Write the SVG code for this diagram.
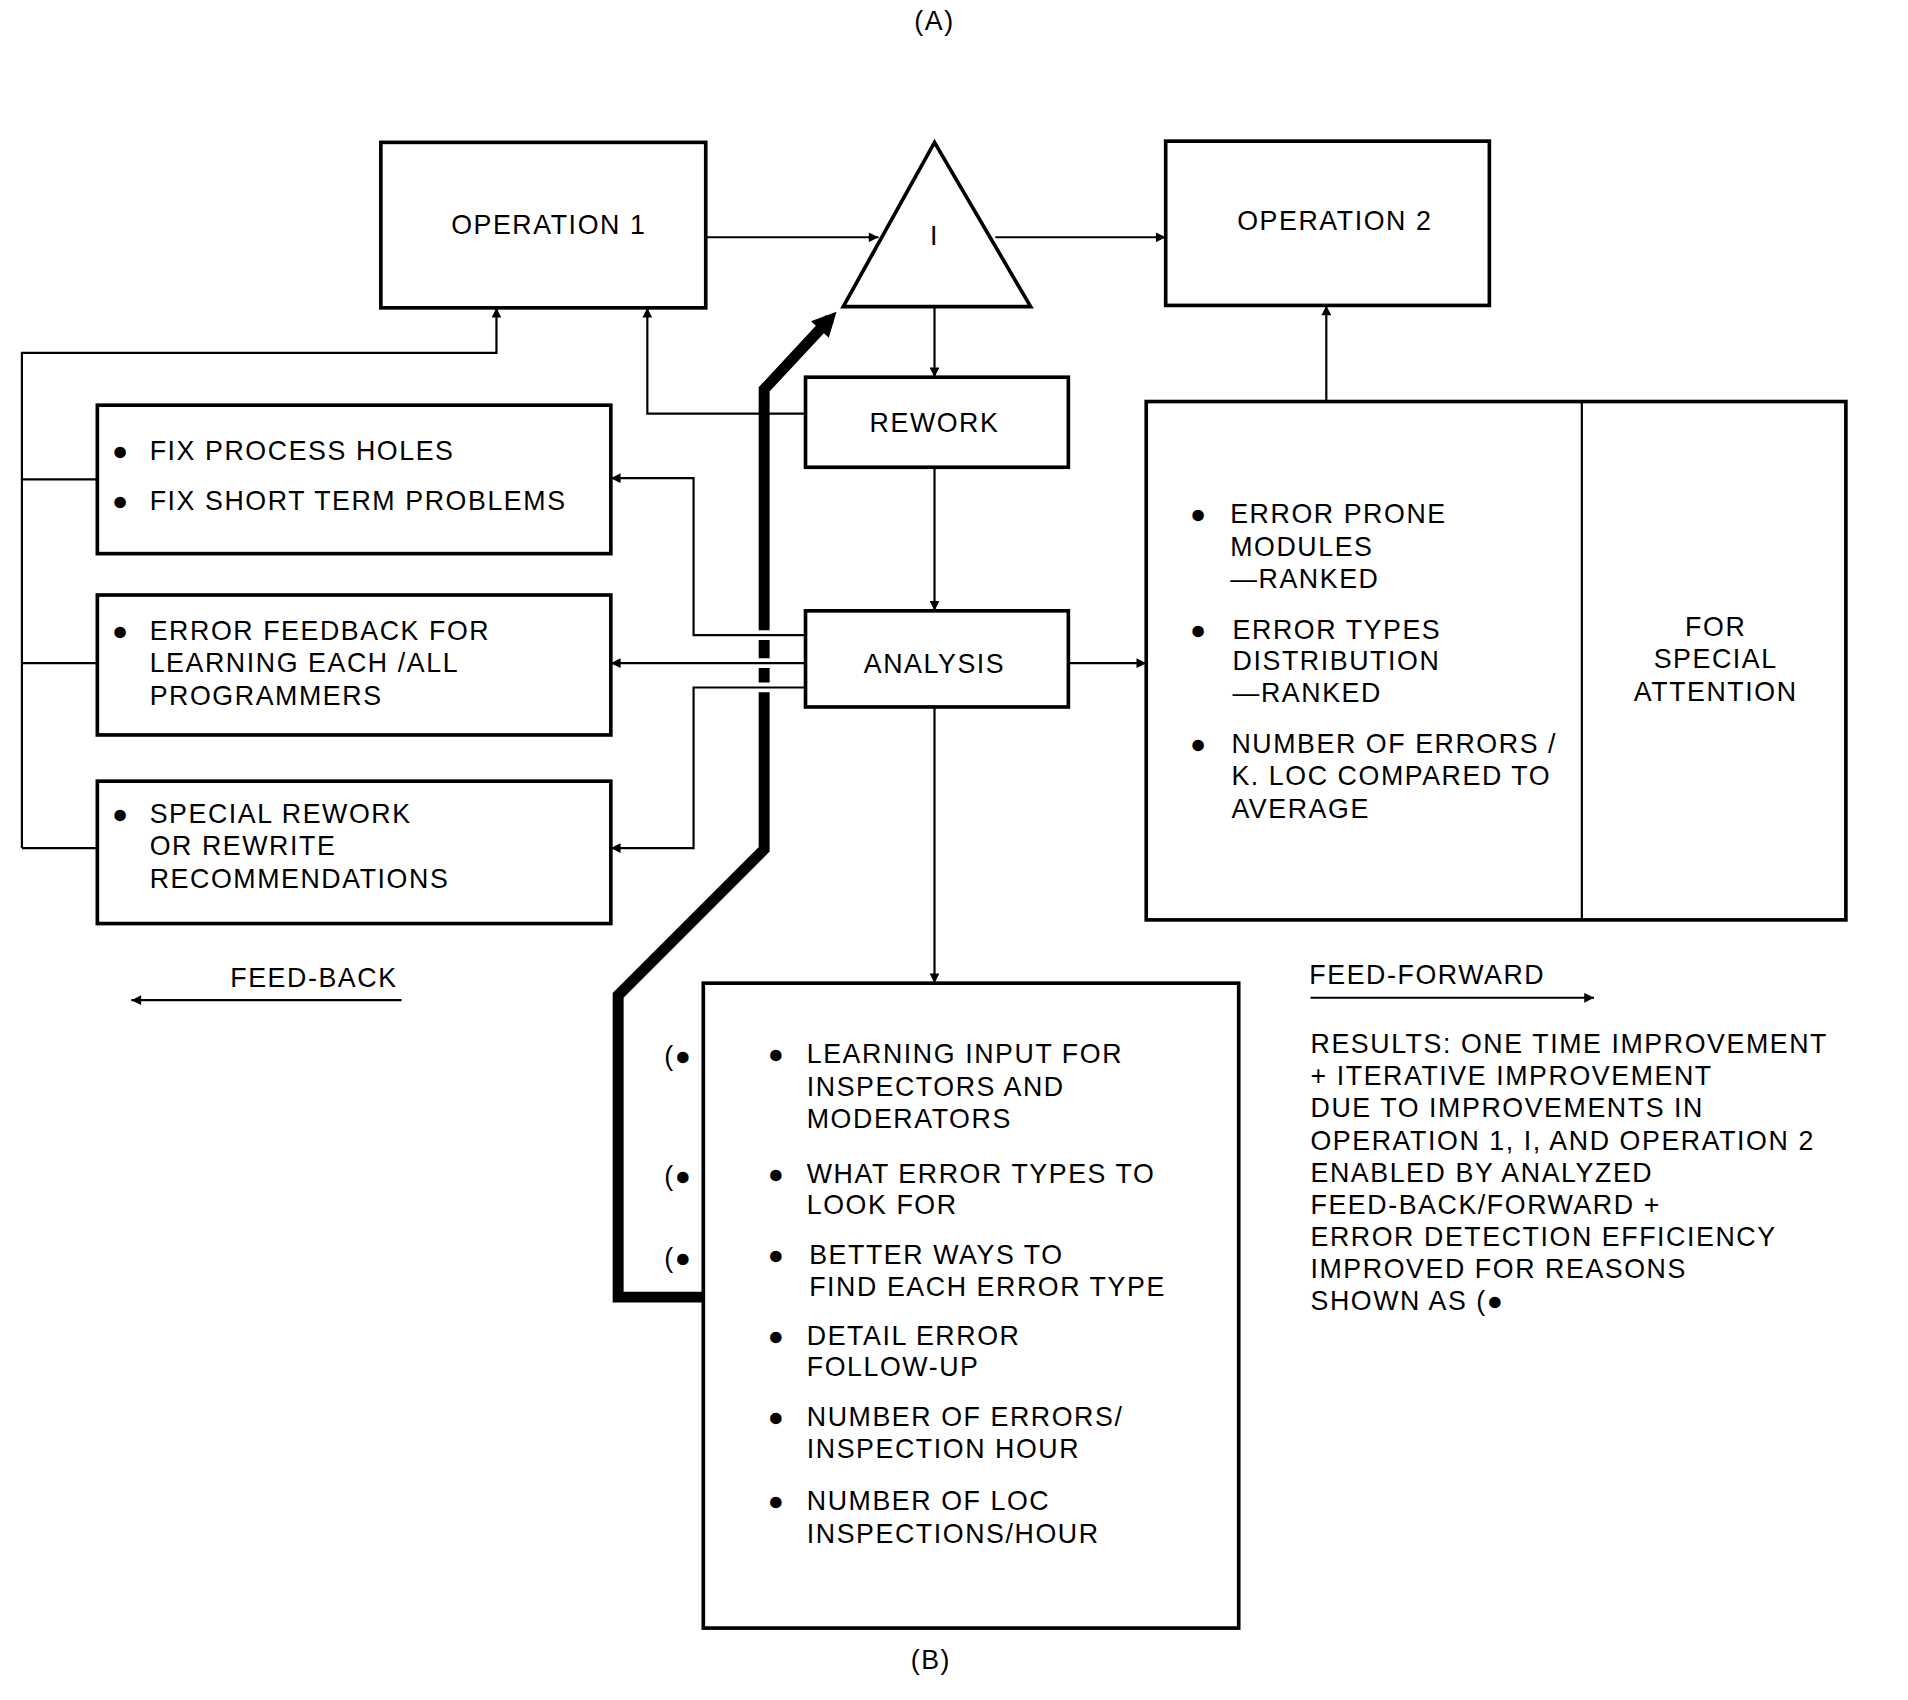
<svg xmlns="http://www.w3.org/2000/svg" width="1908" height="1700" viewBox="0 0 1908 1700">
<defs>
<marker id="ah" viewBox="0 0 10 10" refX="10" refY="5" markerWidth="10" markerHeight="8" markerUnits="userSpaceOnUse" orient="auto"><path d="M0,0 L10,5 L0,10 Z" fill="#000"/></marker>
<marker id="ahb" viewBox="0 0 10 10" refX="6" refY="5" markerWidth="24" markerHeight="20" markerUnits="userSpaceOnUse" orient="auto"><path d="M0,0 L10,5 L0,10 Z" fill="#000"/></marker>
</defs>
<style>
.b{fill:#fff;stroke:#000;stroke-width:3}
.l{fill:none;stroke:#000;stroke-width:1.8}
.a{fill:none;stroke:#000;stroke-width:1.8;marker-end:url(#ah)}
text{font-family:"Liberation Sans",Arial,sans-serif;font-size:22px;letter-spacing:1.3px;fill:#000}
.c{text-anchor:middle}
</style>
<rect width="1908" height="1700" fill="#fff"/>
<g transform="scale(1.2168)">
<text class="c" x="768" y="25">(A)</text>
<g id="connectors">
<path class="a" d="M580,195 L722,195"/>
<path class="a" d="M818,195 L958,195"/>
<path class="a" d="M768,252 L768,310"/>
<path class="a" d="M662,340 L532,340 L532,253"/>
<path class="a" d="M768,384 L768,502"/>
<path class="a" d="M878,545 L942,545"/>
<path class="a" d="M1090,330 L1090,251"/>
<path class="a" d="M768,581 L768,808"/>
<path class="a" d="M18,697 L18,290 L408,290 L408,253"/>
<path class="l" d="M80,394 L18,394 M80,545 L18,545 M80,697 L18,697"/>
<path d="M578,1066 L508,1066 L508,818 L628,698 L628,320 L682,262" fill="none" stroke="#000" stroke-width="9" marker-end="url(#ahb)"/>
<path d="M620,522 L636,522 M620,545 L636,545 M620,565 L636,565" stroke="#fff" stroke-width="8"/>
<path class="a" d="M662,522 L570,522 L570,393 L502,393"/>
<path class="a" d="M662,545 L502,545"/>
<path class="a" d="M662,565 L570,565 L570,697 L502,697"/>
<path class="a" d="M330,822 L108,822"/>
<path class="a" d="M1077,820 L1310,820"/>
</g>
<g id="op1"><rect class="b" x="313" y="117" width="267" height="136"/><text class="c" x="451" y="192">OPERATION 1</text></g>
<g id="inspect"><path class="b" d="M768,117 L847,252 L693,252 Z"/><text class="c" x="768" y="201">I</text></g>
<g id="op2"><rect class="b" x="958" y="116" width="266" height="135"/><text class="c" x="1097" y="189">OPERATION 2</text></g>
<g id="rework"><rect class="b" x="662" y="310" width="216" height="74"/><text class="c" x="768" y="355">REWORK</text></g>
<g id="analysis"><rect class="b" x="662" y="502" width="216" height="79"/><text class="c" x="768" y="553">ANALYSIS</text></g>
<g id="box1"><rect class="b" x="80" y="333" width="422" height="122"/>
<text x="92" y="378">●</text><text x="123" y="378">FIX PROCESS HOLES</text>
<text x="92" y="419">●</text><text x="123" y="419">FIX SHORT TERM PROBLEMS</text></g>
<g id="box2"><rect class="b" x="80" y="489" width="422" height="115"/>
<text x="92" y="526">●</text><text x="123" y="526">ERROR FEEDBACK FOR</text>
<text x="123" y="552">LEARNING EACH /ALL</text><text x="123" y="579">PROGRAMMERS</text></g>
<g id="box3"><rect class="b" x="80" y="642" width="422" height="117"/>
<text x="92" y="676">●</text><text x="123" y="676">SPECIAL REWORK</text>
<text x="123" y="703">OR REWRITE</text><text x="123" y="730">RECOMMENDATIONS</text></g>
<g id="rightbox"><rect class="b" x="942" y="330" width="575" height="426"/><path class="l" d="M1300,330 L1300,756" stroke-width="3"/>
<text x="978" y="430">●</text><text x="1011" y="430">ERROR PRONE</text><text x="1011" y="457">MODULES</text><text x="1011" y="483">—RANKED</text>
<text x="978" y="525">●</text><text x="1013" y="525">ERROR TYPES</text><text x="1013" y="551">DISTRIBUTION</text><text x="1013" y="577">—RANKED</text>
<text x="978" y="619">●</text><text x="1012" y="619">NUMBER OF ERRORS /</text><text x="1012" y="645">K. LOC COMPARED TO</text><text x="1012" y="672">AVERAGE</text>
<text class="c" x="1410" y="523">FOR</text><text class="c" x="1410" y="549">SPECIAL</text><text class="c" x="1410" y="576">ATTENTION</text></g>
<g id="boxB"><rect class="b" x="578" y="808" width="440" height="530"/>
<text x="631" y="874">●</text><text x="663" y="874">LEARNING INPUT FOR</text><text x="663" y="901">INSPECTORS AND</text><text x="663" y="927">MODERATORS</text>
<text x="631" y="972">●</text><text x="663" y="972">WHAT ERROR TYPES TO</text><text x="663" y="998">LOOK FOR</text>
<text x="631" y="1039">●</text><text x="665" y="1039">BETTER WAYS TO</text><text x="665" y="1065">FIND EACH ERROR TYPE</text>
<text x="631" y="1105">●</text><text x="663" y="1105">DETAIL ERROR</text><text x="663" y="1131">FOLLOW-UP</text>
<text x="631" y="1172">●</text><text x="663" y="1172">NUMBER OF ERRORS/</text><text x="663" y="1198">INSPECTION HOUR</text>
<text x="631" y="1241">●</text><text x="663" y="1241">NUMBER OF LOC</text><text x="663" y="1268">INSPECTIONS/HOUR</text></g>
<g id="markers"><text x="546" y="875">(●</text><text x="546" y="974">(●</text><text x="546" y="1041">(●</text></g>
<text class="c" x="258" y="811">FEED-BACK</text>
<text class="c" x="1173" y="809">FEED-FORWARD</text>
<g id="results">
<text x="1077" y="865">RESULTS:  ONE TIME IMPROVEMENT</text>
<text x="1077" y="892">+ ITERATIVE IMPROVEMENT</text>
<text x="1077" y="918">DUE TO IMPROVEMENTS IN</text>
<text x="1077" y="945">OPERATION 1, I, AND OPERATION 2</text>
<text x="1077" y="971">ENABLED BY ANALYZED</text>
<text x="1077" y="998">FEED-BACK/FORWARD +</text>
<text x="1077" y="1024">ERROR DETECTION EFFICIENCY</text>
<text x="1077" y="1050">IMPROVED FOR REASONS</text>
<text x="1077" y="1077">SHOWN AS (●</text>
</g>
<text class="c" x="765" y="1372">(B)</text>
</g>
</svg>
